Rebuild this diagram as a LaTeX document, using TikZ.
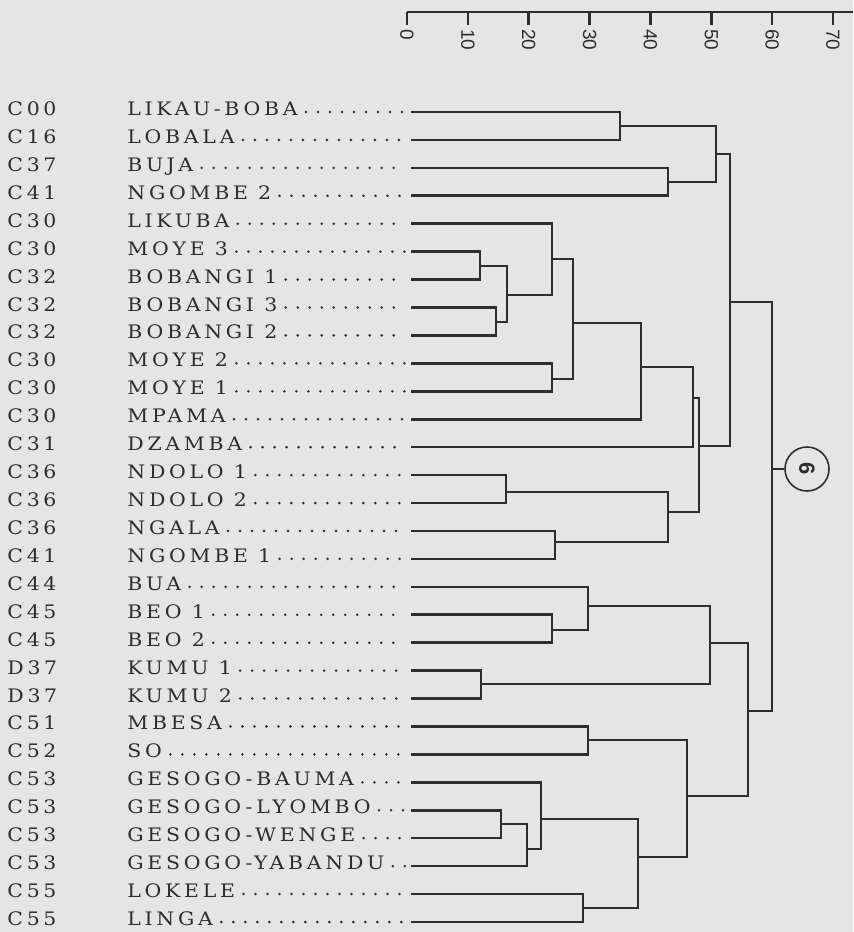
\documentclass[tikz,border=0pt]{standalone}
\usepackage{fontspec}
\setmainfont{DejaVu Serif}
\newfontfamily\axisfont{Liberation Sans}
\definecolor{paper}{RGB}{229,229,229}
\definecolor{ink}{RGB}{45,45,45}
\tikzset{
  branch/.style={draw=ink, line width=1.3pt},
  leader/.style={draw=ink, line width=1.4pt, line cap=round,
    dash pattern=on 0pt off 6pt, shorten <=4pt, shorten >=3pt},
  lang/.style={anchor=base west, inner sep=0pt, text=ink,
    font=\addfontfeature{LetterSpace=20,FakeStretch=1.1}\fontsize{9.3}{12}\selectfont},
  tick/.style={rotate=-90, anchor=west, inner sep=0pt, text=ink,
    font=\axisfont\fontsize{9.5}{10}\selectfont}
}
\begin{document}
\begin{tikzpicture}[x=0.5pt, y=-0.5pt]
  % fond et cadre
  \fill[paper] (0,0) rectangle (853,932);
  \useasboundingbox (0,0) rectangle (853,932);

  % echelle (haut)
  \coordinate (a0) at (407,12);
  \coordinate (a1) at (853,12);
  \draw[branch] (a0) -- (a1);
  \foreach \v in {0,10,...,70}{
    \coordinate (t\v) at ({407+6.086*\v},12);
    \draw[branch] (t\v) -- ++(0,13);
    \node[tick] at ([yshift=-8.5pt] t\v) {\v};
  }

  % les feuilles
  \foreach \cd/\nm [count=\i from 0] in {C00/LIKAU-BOBA, C16/LOBALA,
      C37/BUJA, C41/NGOMBE 2, C30/LIKUBA, C30/MOYE 3, C32/BOBANGI 1,
      C32/BOBANGI 3, C32/BOBANGI 2, C30/MOYE 2, C30/MOYE 1, C30/MPAMA,
      C31/DZAMBA, C36/NDOLO 1, C36/NDOLO 2, C36/NGALA, C41/NGOMBE 1,
      C44/BUA, C45/BEO 1, C45/BEO 2, D37/KUMU 1, D37/KUMU 2, C51/MBESA,
      C52/SO, C53/GESOGO-BAUMA, C53/GESOGO-LYOMBO, C53/GESOGO-WENGE,
      C53/GESOGO-YABANDU, C55/LOKELE, C55/LINGA}{
    \coordinate (l\i) at (411,{112+27.93*\i});
    \node[lang] (c\i) at (7,{115.5+27.93*\i}) {\cd};
    \node[lang] (n\i) at (127,{115.5+27.93*\i}) {\nm};
    \draw[leader] (n\i.east |- l\i) -- (l\i);
  }

  % niveaux de fusion
  \coordinate (m1) at (620,126);
  \coordinate (m2) at (668,182);
  \coordinate (m3) at (716,154);
  \coordinate (m4) at (480,266);
  \coordinate (m5) at (496,322);
  \coordinate (m6) at (507,295);
  \coordinate (m7) at (552,259);
  \coordinate (m8) at (552,379);
  \coordinate (m9) at (573,323);
  \coordinate (m10) at (641,367);
  \coordinate (m11) at (693,398);
  \coordinate (m12) at (506,492);
  \coordinate (m13) at (555,542);
  \coordinate (m14) at (668,512);
  \coordinate (m15) at (699,446);
  \coordinate (m16) at (730,302);
  \coordinate (m17) at (552,630);
  \coordinate (m18) at (588,606);
  \coordinate (m19) at (481,684);
  \coordinate (m20) at (710,643);
  \coordinate (m21) at (588,740);
  \coordinate (m22) at (501,824);
  \coordinate (m23) at (527,849);
  \coordinate (m24) at (541,819);
  \coordinate (m25) at (583,908);
  \coordinate (m26) at (638,857);
  \coordinate (m27) at (687,796);
  \coordinate (m28) at (748,711);
  \coordinate (m29) at (772,469);

  % trace du dendrogramme
  \draw[branch] (l0) -| (m1) |- (l1);
  \draw[branch] (l2) -| (m2) |- (l3);
  \draw[branch] (m1) -| (m3) |- (m2);
  \draw[branch] (l5) -| (m4) |- (l6);
  \draw[branch] (l7) -| (m5) |- (l8);
  \draw[branch] (m4) -| (m6) |- (m5);
  \draw[branch] (l4) -| (m7) |- (m6);
  \draw[branch] (l9) -| (m8) |- (l10);
  \draw[branch] (m7) -| (m9) |- (m8);
  \draw[branch] (m9) -| (m10) |- (l11);
  \draw[branch] (m10) -| (m11) |- (l12);
  \draw[branch] (l13) -| (m12) |- (l14);
  \draw[branch] (l15) -| (m13) |- (l16);
  \draw[branch] (m12) -| (m14) |- (m13);
  \draw[branch] (m11) -| (m15) |- (m14);
  \draw[branch] (m3) -| (m16) |- (m15);
  \draw[branch] (l18) -| (m17) |- (l19);
  \draw[branch] (l17) -| (m18) |- (m17);
  \draw[branch] (l20) -| (m19) |- (l21);
  \draw[branch] (m18) -| (m20) |- (m19);
  \draw[branch] (l22) -| (m21) |- (l23);
  \draw[branch] (l25) -| (m22) |- (l26);
  \draw[branch] (m22) -| (m23) |- (l27);
  \draw[branch] (l24) -| (m24) |- (m23);
  \draw[branch] (l28) -| (m25) |- (l29);
  \draw[branch] (m24) -| (m26) |- (m25);
  \draw[branch] (m21) -| (m27) |- (m26);
  \draw[branch] (m20) -| (m28) |- (m27);
  \draw[branch] (m16) -| (m29) |- (m28);

  % groupe 6
  \node[circle, draw=ink, line width=0.8pt, minimum size=22pt, inner sep=0pt,
    rotate=-90, text=ink, font=\axisfont\bfseries\fontsize{11}{12}\selectfont]
    (g6) at (807,469) {6};
  \draw[branch] (m29) -- (g6);
\end{tikzpicture}
\end{document}
